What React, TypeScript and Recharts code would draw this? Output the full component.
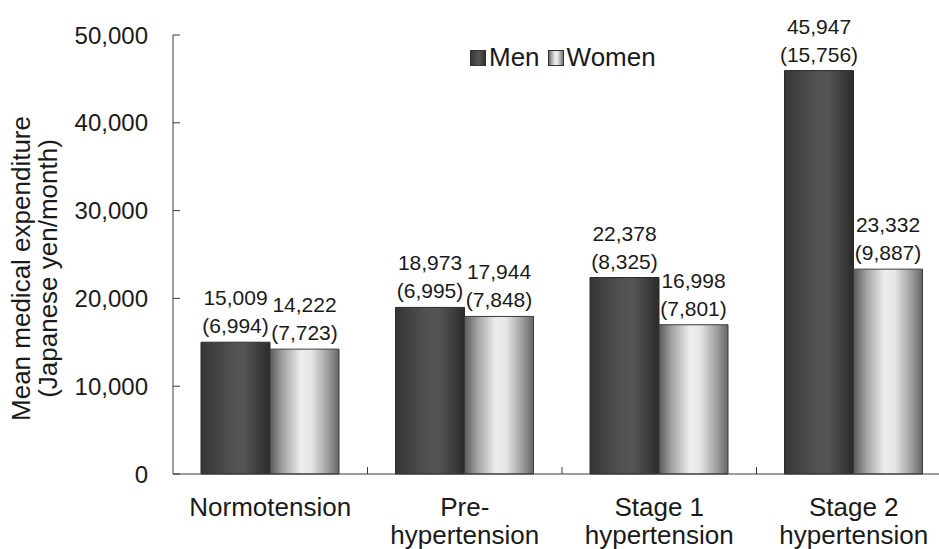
import React from "react";
import { Bar, BarChart, LabelList, Legend, XAxis, YAxis } from "recharts";

const categories = ["Normotension", "Pre-\nhypertension", "Stage 1\nhypertension", "Stage 2\nhypertension"];
const menMean = [15009, 18973, 22378, 45947];
const womenMean = [14222, 17944, 16998, 23332];
const menSd = [6994, 6995, 8325, 15756];
const womenSd = [7723, 7848, 7801, 9887];
const yTicks = [0, 10000, 20000, 30000, 40000, 50000];

const data = categories.map((name, i) => ({
  name,
  men: menMean[i],
  women: womenMean[i],
  menSd: menSd[i],
  womenSd: womenSd[i],
}));

const FONT = "'Liberation Sans', Arial, Helvetica, sans-serif";
const fmt = (v: number) => v.toLocaleString("en-US");

const AXIS = "#3a3a3a";

function XTick(props: any) {
  const { x, y, payload } = props;
  const lines = String(payload.value).split("\n");
  const boundary = x + (payload.offset || 0);
  return (
    <g>
      {payload.index < categories.length - 1 && (
        <line x1={boundary} x2={boundary} y1={y} y2={y - 7} stroke={AXIS} strokeWidth={1} />
      )}
      <text x={x} y={y + 42} textAnchor="middle" fontSize={26} fill="#1a1a1a" fontFamily={FONT}>
        {lines.map((l, i) => (
          <tspan key={i} x={x} dy={i === 0 ? 0 : 28}>
            {l}
          </tspan>
        ))}
      </text>
    </g>
  );
}

function makeValueLabel(sd: number[]) {
  return (props: any) => {
    const { x, y, width, index, value } = props;
    const cx = x + width / 2;
    return (
      <g fontFamily={FONT} fontSize={21} fill="#1a1a1a" textAnchor="middle">
        <text x={cx} y={y - 37}>{fmt(value)}</text>
        <text x={cx} y={y - 9}>({fmt(sd[index])})</text>
      </g>
    );
  };
}

function YLabel(props: any) {
  const { viewBox } = props;
  const cy = viewBox.y + viewBox.height / 2 + 14;
  return (
    <g fontFamily={FONT} fontSize={26} fill="#1a1a1a">
      <text x={21} y={cy} transform={`rotate(-90, 21, ${cy})`} textAnchor="middle" dominantBaseline="central">
        Mean medical expenditure
      </text>
      <text x={48} y={cy} transform={`rotate(-90, 48, ${cy})`} textAnchor="middle" dominantBaseline="central">
        (Japanese yen/month)
      </text>
    </g>
  );
}

function LegendContent() {
  const items = [
    { label: "Men", fill: "url(#menFill)" },
    { label: "Women", fill: "url(#womenFill)" },
  ];
  return (
    <div style={{ display: "flex", alignItems: "center", fontFamily: FONT, fontSize: 26, color: "#1a1a1a", whiteSpace: "nowrap" }}>
      {items.map((it) => (
        <span key={it.label} style={{ display: "flex", alignItems: "center", marginRight: 8 }}>
          <svg width={16} height={16} style={{ marginRight: 3 }}>
            <rect x={0.5} y={0.5} width={15} height={15} fill={it.fill} stroke="#333" />
          </svg>
          {it.label}
        </span>
      ))}
    </div>
  );
}

export default function App() {
  return (
    <div style={{ position: "absolute", left: 0, top: 0, width: 939, height: 549, overflow: "hidden", background: "#fff" }}>
      <BarChart
        width={960}
        height={549}
        data={data}
        margin={{ top: 35, right: 9, bottom: 0, left: 0 }}
        barCategoryGap={28}
        barGap={0}
      >
        <defs>
          <linearGradient id="menFill" x1="0" y1="0" x2="1" y2="0">
            <stop offset="0" stopColor="#363636" />
            <stop offset="0.45" stopColor="#515151" />
            <stop offset="0.62" stopColor="#555555" />
            <stop offset="0.9" stopColor="#363636" />
            <stop offset="1" stopColor="#2a2a2a" />
          </linearGradient>
          <linearGradient id="womenFill" x1="0" y1="0" x2="1" y2="0">
            <stop offset="0" stopColor="#5a5a5a" />
            <stop offset="0.18" stopColor="#a0a0a0" />
            <stop offset="0.45" stopColor="#eeeeee" />
            <stop offset="0.6" stopColor="#e6e6e6" />
            <stop offset="0.85" stopColor="#9a9a9a" />
            <stop offset="1" stopColor="#666666" />
          </linearGradient>
        </defs>
        <XAxis
          dataKey="name"
          height={75}
          interval={0}
          tickSize={0}
          tickMargin={0}
          tickLine={false}
          axisLine={{ stroke: AXIS }}
          tick={<XTick />}
        />
        <YAxis
          width={173}
          domain={[0, 50000]}
          ticks={yTicks}
          interval={0}
          tickSize={-7}
          tickMargin={32}
          tickFormatter={fmt}
          axisLine={{ stroke: AXIS }}
          tickLine={{ stroke: AXIS }}
          tick={{ fontSize: 24, fill: "#1a1a1a", fontFamily: FONT }}
          label={<YLabel />}
        />
        <Legend
          layout="horizontal"
          verticalAlign="middle"
          content={<LegendContent />}
          wrapperStyle={{ position: "absolute", top: 42, left: 470, width: "auto" }}
        />
        <Bar dataKey="men" name="Men" fill="url(#menFill)" stroke="#2b2b2b" strokeWidth={1} isAnimationActive={false}>
          <LabelList dataKey="men" content={makeValueLabel(menSd)} />
        </Bar>
        <Bar dataKey="women" name="Women" fill="url(#womenFill)" stroke="#3a3a3a" strokeWidth={1} isAnimationActive={false}>
          <LabelList dataKey="women" content={makeValueLabel(womenSd)} />
        </Bar>
      </BarChart>
    </div>
  );
}
